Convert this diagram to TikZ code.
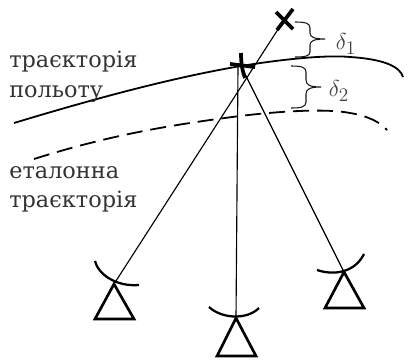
\documentclass[tikz,border=0pt]{standalone}
\usepackage{fontspec}
\setmainfont{DejaVu Serif}
\tikzset{
  x=0.75pt,y=-0.75pt,
  ray/.style={line width=0.85pt,black},
  traj/.style={line width=1.35pt,black},
  station/.style={line width=2pt,black,line join=miter},
  dish/.style={line width=1.7pt,black},
  fixmark/.style={line width=2.8pt,black},
  bracket/.style={line width=0.8pt,black!90},
  lbl/.style={anchor=base west,inner sep=0pt,text=black!80,font=\fontsize{16.8pt}{18pt}\selectfont},
  dlt/.style={inner sep=0pt,text=black!75,font=\fontsize{19pt}{21pt}\selectfont}
}
\begin{document}
\begin{tikzpicture}
\useasboundingbox (0,0) rectangle (420,361);
\coordinate (target) at (284,20);
\coordinate (fix) at (241,66);
\coordinate (s1) at (114,284);
\coordinate (s2) at (236,318);
\coordinate (s3) at (344,272);
\coordinate (fixa) at (238,66);
\coordinate (fixb) at (243,70);
% rays
\draw[ray] (s1) -- (target);
\draw[ray] (s2) -- (fixa);
\draw[ray] (s3) -- (fixb);
% trajectories
\draw[traj] (14,123) .. controls (90,100) and (170,78) .. (241,66)
  .. controls (290,58) and (330,55) .. (350,57)
  .. controls (382,59) and (400,66) .. (403,77);
\draw[traj,dash pattern=on 12pt off 6pt] (34,159) .. controls (110,135) and (170,125) .. (240,116)
  .. controls (290,110) and (330,109) .. (350,113)
  .. controls (368,116) and (380,122) .. (387,130);
% marks
\draw[fixmark] (276,12) -- (293,29) (293,9) -- (277,30);
\draw[fixmark] (241,53) .. controls (241,62) and (242,70) .. (245,78);
\draw[fixmark] (230,64) -- (255,67);
% stations
\draw[station] (s1) -- (95,319) -- (134,319) -- cycle;
\draw[station] (s2) -- (217,356) -- (256,356) -- cycle;
\draw[station] (s3) -- (325,308) -- (364,308) -- cycle;
\draw[dish] (95,261) .. controls (98,274) and (116,287) .. (139,285);
\draw[dish] (209,307) .. controls (222,319) and (247,320) .. (259,308);
\draw[dish] (317,270) .. controls (335,276) and (355,272) .. (364,254);
% braces
\draw[bracket] (295,22) .. controls (305,22) and (310,23) .. (310,28) -- (310,33)
  .. controls (310,37) and (314,39) .. (325,39)
  .. controls (314,39) and (310,41) .. (310,45) -- (310,52)
  .. controls (310,56) and (305,57) .. (295,57);
\draw[bracket] (291,66) .. controls (301,66) and (306,67) .. (306,72) -- (306,80)
  .. controls (306,85) and (310,87) .. (321,87)
  .. controls (310,87) and (306,89) .. (306,94) -- (306,102)
  .. controls (306,107) and (301,108) .. (291,108);
% labels
\node[dlt] (d1) at (346,44) {$\delta_1$};
\node[dlt] (d2) at (339,91) {$\delta_2$};
\node[lbl] (l1) at (9,67) {траєкторія};
\node[lbl] (l2) at (9,97) {польоту};
\node[lbl] (l3) at (9,178) {еталонна};
\node[lbl] (l4) at (9,207) {траєкторія};
\end{tikzpicture}
\end{document}
